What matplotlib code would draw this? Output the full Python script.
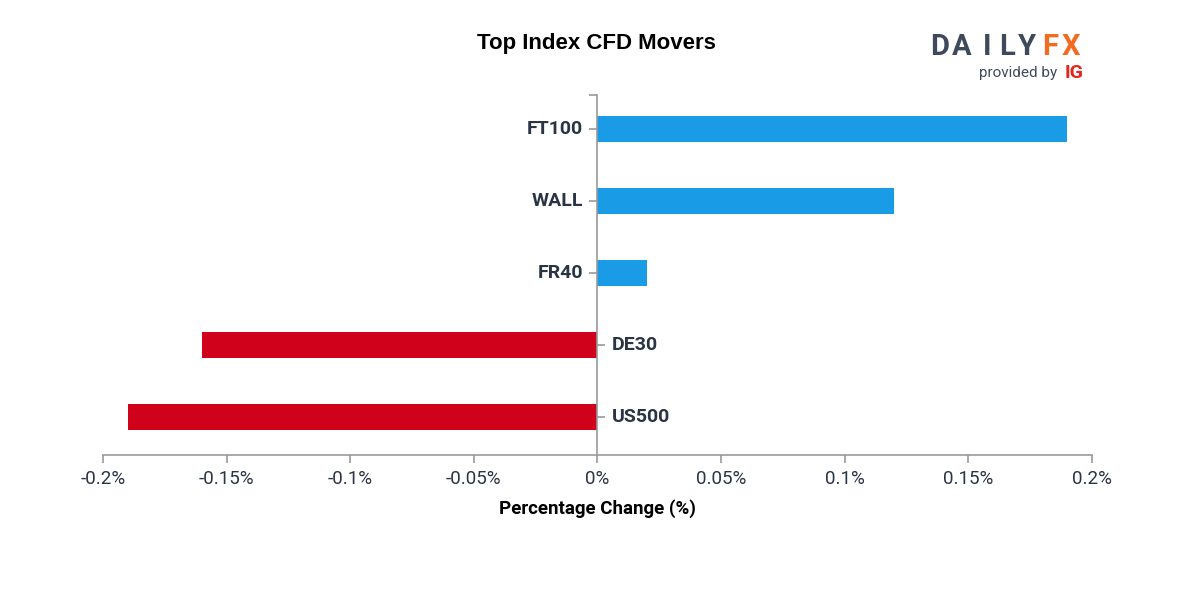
import matplotlib
matplotlib.use("Agg")
import matplotlib.pyplot as plt
from matplotlib.markers import TICKLEFT, TICKRIGHT
from matplotlib.ticker import FuncFormatter

# data
markets = ["FT100", "WALL", "FR40", "DE30", "US500"]
changes = [0.19, 0.12, 0.02, -0.16, -0.19]
xticks = [-0.2, -0.15, -0.1, -0.05, 0, 0.05, 0.1, 0.15, 0.2]

BLUE = "#1a9be6"
RED = "#d0021b"
TEXT = "#2b3445"
AXIS = "#9a9a9a"

plt.rcParams['font.family'] = ['Roboto', 'DejaVu Sans']

fig = plt.figure(figsize=(12, 6), dpi=100)
ax = fig.add_axes([0.0858, 0.2417, 0.8242, 0.6])

pos = list(range(len(markets)))
colors = [BLUE if v >= 0 else RED for v in changes]
ax.barh(pos, changes, height=0.36, color=colors, zorder=2)

ax.set_xlim(-0.2, 0.2)
ax.set_ylim(len(markets) - 1 + 38 / 72, -34 / 72)

for s in ["top", "right"]:
    ax.spines[s].set_visible(False)
ax.spines["left"].set_position(("data", 0))
ax.spines["left"].set_color(AXIS)
ax.spines["bottom"].set_color(AXIS)
ax.spines["left"].set_linewidth(1.2)
ax.spines["bottom"].set_linewidth(1.2)

ax.set_yticks([])
ax.set_xticks(xticks)
ax.xaxis.set_major_formatter(FuncFormatter(lambda v, p: "0%" if v == 0 else f"{v:g}%"))
ax.tick_params(axis="x", colors=AXIS, length=6, width=1.2, pad=5, labelsize=13.5, labelcolor=TEXT)

# category labels on the opposite side of each bar
for i, (name, v) in enumerate(zip(markets, changes)):
    if v >= 0:
        ax.plot(0, i, marker=TICKLEFT, markersize=6, color=AXIS, mew=1.2, clip_on=False)
        ax.annotate(name, (0, i), xytext=(-10.5, 0), textcoords="offset points",
                    ha="right", va="center", fontsize=14, fontweight="bold", color=TEXT)
    else:
        ax.plot(0, i, marker=TICKRIGHT, markersize=6, color=AXIS, mew=1.2, clip_on=False)
        ax.annotate(name, (0, i), xytext=(10.5, 0), textcoords="offset points",
                    ha="left", va="center", fontsize=14, fontweight="bold", color=TEXT)
# outer end cap at top of y axis
ax.plot(0, ax.get_ylim()[1], marker=TICKLEFT, markersize=6, color=AXIS, mew=1.2, clip_on=False)

ax.set_xlabel("Percentage Change (%)", fontsize=13.5, fontweight="bold", color="black", labelpad=8)

fig.text(0.4971, 0.927, "Top Index CFD Movers", ha="center", va="center",
         fontsize=16, fontweight="bold", family=["Liberation Sans", "DejaVu Sans"], color="black")

# logo
logo = "DAILYFX"
lx = [0.7833, 0.8017, 0.8225, 0.8392, 0.8558, 0.875, 0.8925]
for ch, x in zip(logo, lx):
    fig.text(x, 0.921, ch, ha="center", va="center", fontsize=21, fontweight="bold",
             color="#f26b21" if ch in "FX" else "#3e4a5b")
fig.text(0.881, 0.879, "provided by", ha="right", va="center", fontsize=11, color="#3e4a5b")
fig.text(0.8875, 0.879, "IG", ha="left", va="center", fontsize=14, fontweight="bold", color="#e3261d")

fig.savefig("out.png", dpi=100)
